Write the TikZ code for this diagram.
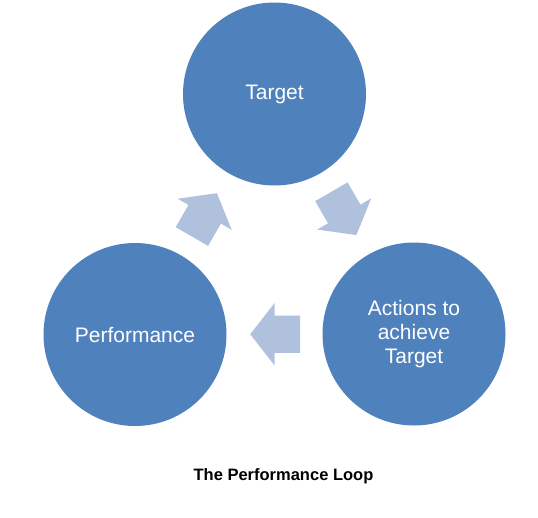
\documentclass[tikz,border=0pt]{standalone}
\usepackage{fontspec}
\setmainfont{Liberation Sans}
\usetikzlibrary{shapes.arrows,calc}
\definecolor{loopblue}{RGB}{79,129,189}
\definecolor{looparrow}{RGB}{176,193,221}
\tikzset{
    stage/.style={circle, fill=loopblue, minimum size=183pt, inner sep=0pt, text=white,
        font=\fontsize{21}{24}\selectfont, align=center},
    flow/.style={single arrow, fill=looparrow, inner xsep=17.5pt, inner ysep=18.5pt,
        single arrow head extend=12.5pt, single arrow tip angle=104}
}
\begin{document}
\begin{tikzpicture}[x=1pt,y=-1pt]
    \useasboundingbox (0,0) rectangle (538,517);
    \node[stage] (target) at (274.5,94) {Target};
    \node[stage] (actions) at (414,334) {Actions to\\achieve\\Target};
    \node[stage] (perf) at (135,334.5) {Performance};

    \node[flow, rotate=60] (up) at ($($(perf)!0.5!(target)$)!8pt!(perf)$) {};
    \node[flow, rotate=-60] (down) at ($($(target)!0.5!(actions)$)!8pt!(target)$) {};
    \node[flow, rotate=180] (back) at ($($(actions)!0.5!(perf)$)!8pt!(actions)$) {};

    \node[font=\bfseries\fontsize{16.5}{19}\selectfont] (caption) at (283.5,476) {The Performance Loop};
\end{tikzpicture}
\end{document}
